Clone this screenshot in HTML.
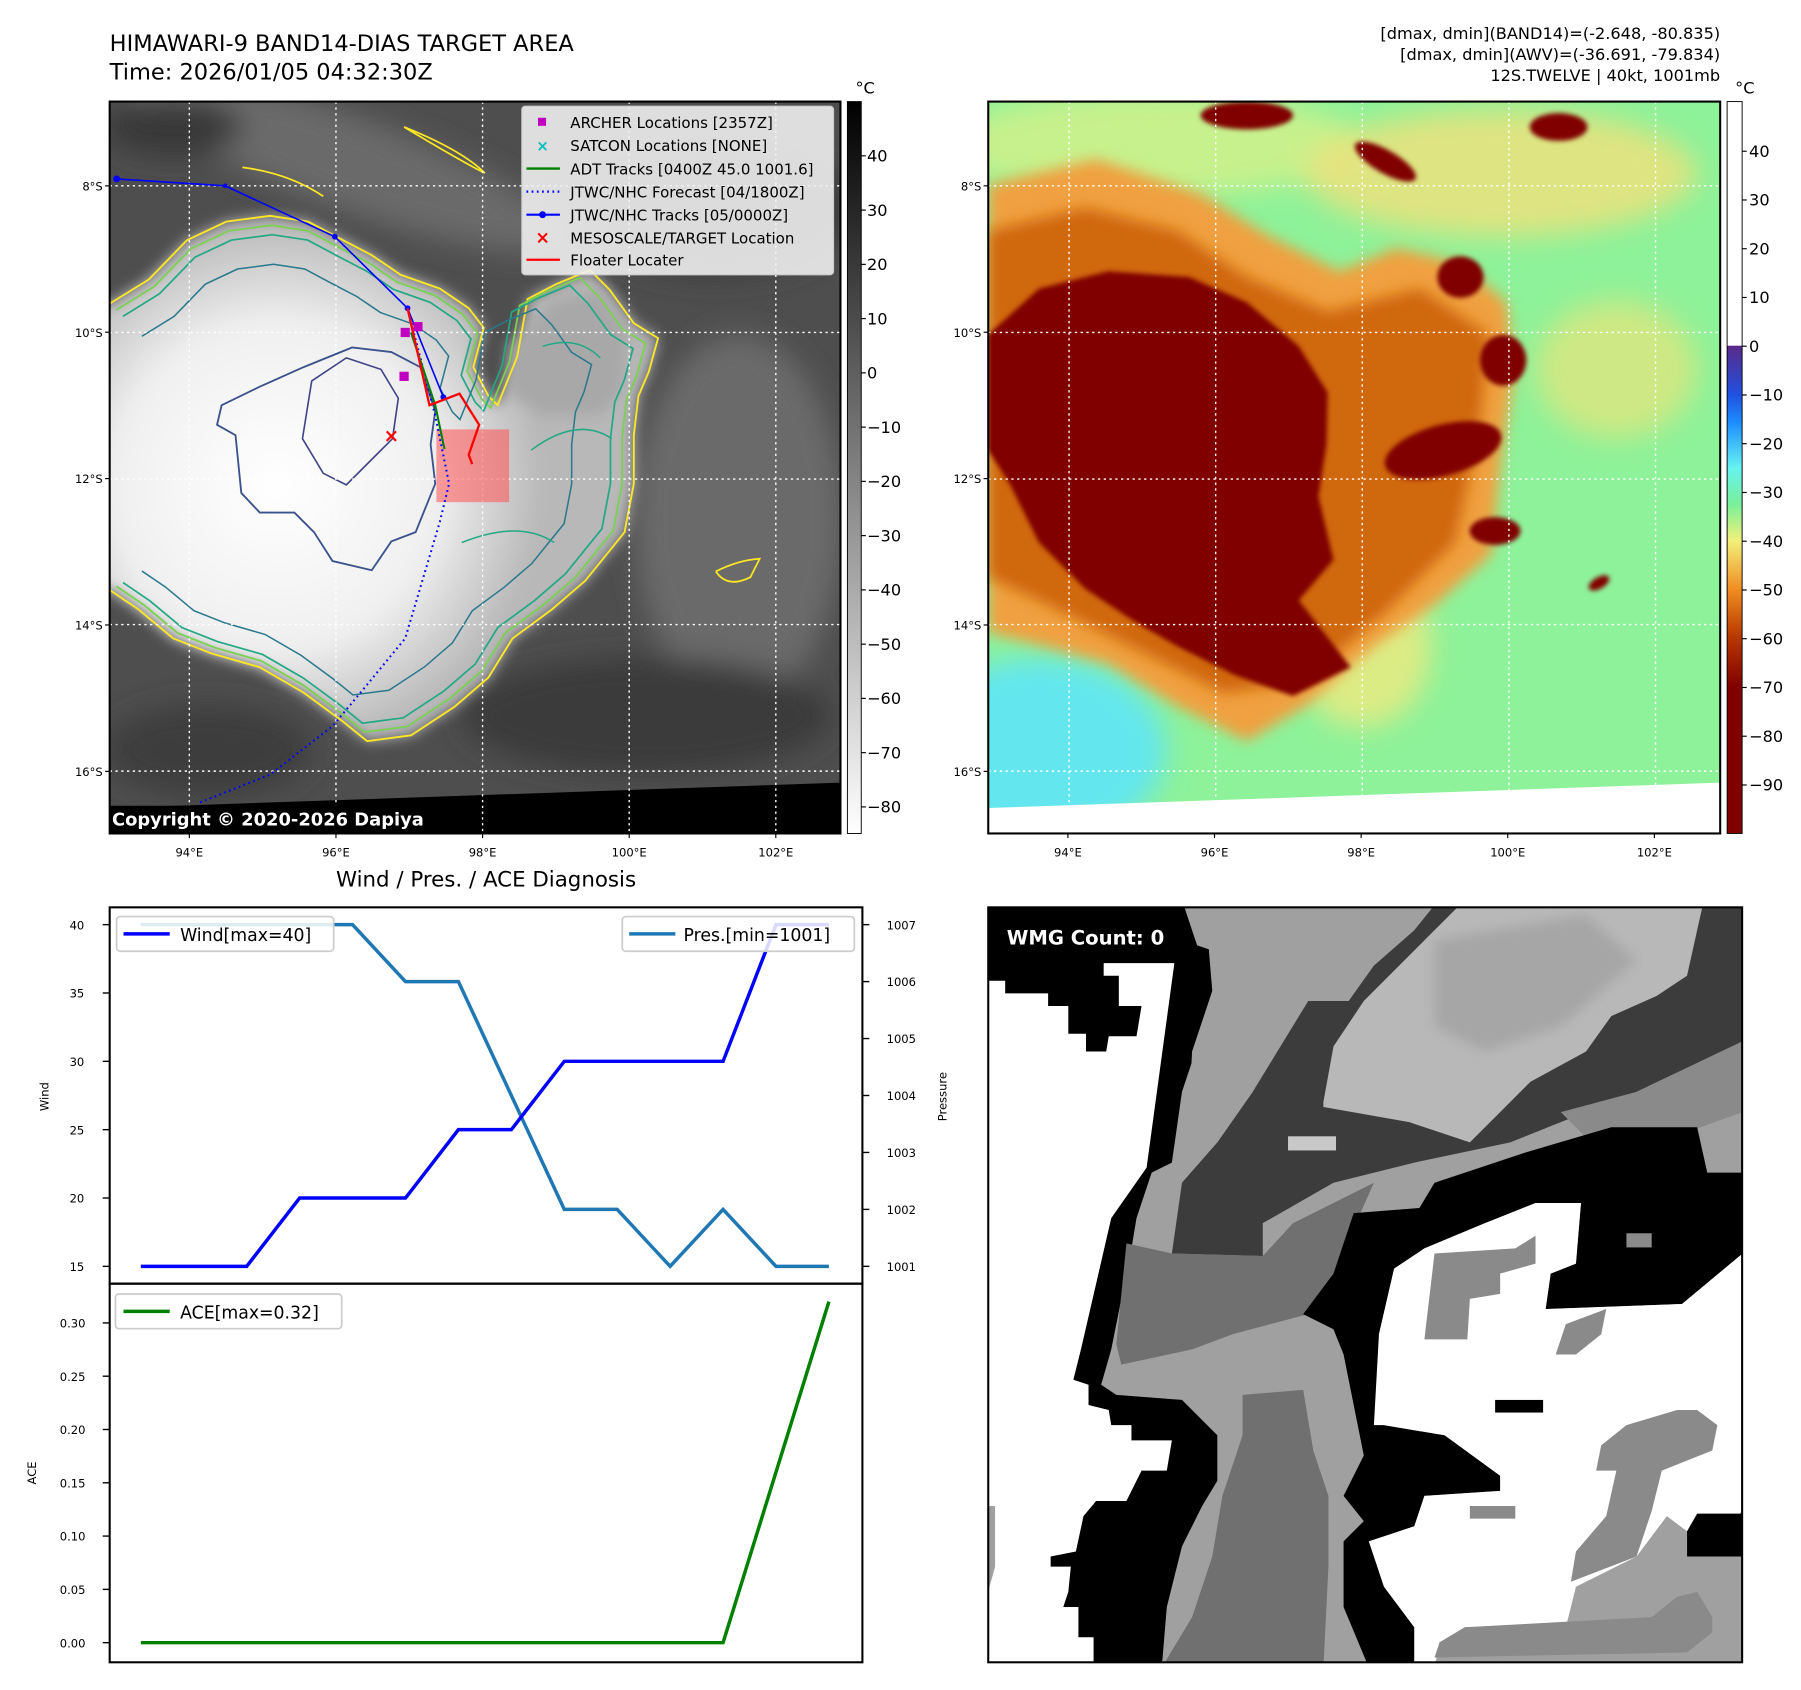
<!DOCTYPE html>
<html><head><meta charset="utf-8">
<style>
html,body{margin:0;padding:0;background:#fff;}
svg{display:block;font-family:"DejaVu Sans","Liberation Sans",sans-serif;}
</style></head>
<body>
<svg id="fig" xmlns="http://www.w3.org/2000/svg" width="1801" height="1690" viewBox="0 0 1560 1464" preserveAspectRatio="none">
<defs>
  <filter id="b2" x="-20%" y="-20%" width="140%" height="140%"><feGaussianBlur stdDeviation="2"/></filter>
  <filter id="b6" x="-30%" y="-30%" width="160%" height="160%"><feGaussianBlur stdDeviation="6"/></filter>
  <filter id="b12" x="-30%" y="-30%" width="160%" height="160%"><feGaussianBlur stdDeviation="12"/></filter>
  <radialGradient id="wg" cx="240" cy="420" r="230" gradientUnits="userSpaceOnUse">
    <stop offset="0" stop-color="#ffffff"/><stop offset="0.6" stop-color="#f0f0f0"/><stop offset="1" stop-color="#b8b8b8"/>
  </radialGradient>
  <linearGradient id="cb1" x1="0" y1="0" x2="0" y2="1"><stop offset="0" stop-color="#000"/><stop offset="1" stop-color="#fff"/></linearGradient>
  <linearGradient id="cb2" x1="0" y1="88" x2="0" y2="722" gradientUnits="userSpaceOnUse">
    <stop offset="0" stop-color="#fff"/><stop offset="0.333" stop-color="#fff"/>
    <stop offset="0.334" stop-color="#5a2a8a"/><stop offset="0.40" stop-color="#2050e0"/>
    <stop offset="0.44" stop-color="#1e90ff"/><stop offset="0.50" stop-color="#66f2f0"/>
    <stop offset="0.55" stop-color="#7af09a"/><stop offset="0.60" stop-color="#f2f07a"/>
    <stop offset="0.667" stop-color="#f08c20"/><stop offset="0.73" stop-color="#b83a00"/>
    <stop offset="0.80" stop-color="#800000"/><stop offset="1" stop-color="#800000"/>
  </linearGradient>
  <clipPath id="clipL"><rect x="95" y="88" width="633" height="634"/></clipPath>
  <clipPath id="clipR"><rect x="856" y="88" width="634" height="634"/></clipPath>
  <clipPath id="clipW"><rect x="856" y="786" width="653" height="654"/></clipPath>
  <path id="blobC" d="M95,263 L129,242 L162,208 L196,192 L234,187 L267,192 L297,208 L322,221 L347,238 L381,250 L406,267 L419,284 L410,318 L423,343 L431,351 L448,309 L457,259 L482,246 L511,234 L528,251 L549,280 L570,293 L562,322 L553,343 L549,377 L549,419 L541,461 L507,503 L478,528 L444,553 L423,587 L394,612 L356,637 L318,642 L297,625 L263,600 L225,578 L183,566 L150,553 L120,528 L95,511"/>
</defs>

<!-- titles -->
<text x="95" y="44" font-size="19.5">HIMAWARI-9 BAND14-DIAS TARGET AREA</text>
<text x="95" y="69" font-size="19.5">Time: 2026/01/05 04:32:30Z</text>
<g font-size="14" text-anchor="end">
  <text x="1490" y="34">[dmax, dmin](BAND14)=(-2.648, -80.835)</text>
  <text x="1490" y="52">[dmax, dmin](AWV)=(-36.691, -79.834)</text>
  <text x="1490" y="70">12S.TWELVE | 40kt, 1001mb</text>
</g>

<!-- LEFT MAP -->
<g clip-path="url(#clipL)">
  <rect x="95" y="88" width="633" height="634" fill="#4e4e4e"/>
  <g filter="url(#b12)">
    <ellipse cx="300" cy="140" rx="200" ry="40" fill="#6a6a6a" transform="rotate(20 300 140)"/>
    <ellipse cx="620" cy="180" rx="120" ry="60" fill="#3c3c3c"/>
    <ellipse cx="640" cy="450" rx="90" ry="160" fill="#6a6a6a"/>
    <ellipse cx="560" cy="620" rx="160" ry="50" fill="#3a3a3a"/>
    <ellipse cx="180" cy="650" rx="90" ry="40" fill="#3c3c3c"/>
    <ellipse cx="150" cy="110" rx="60" ry="25" fill="#383838"/>
  </g>
  <path d="M60,263 L95,263 L129,242 L162,208 L196,192 L234,187 L267,192 L297,208 L322,221 L347,238 L381,250 L406,267 L419,284 L410,318 L423,343 L431,351 L448,309 L457,259 L482,246 L511,234 L528,251 L549,280 L570,293 L562,322 L553,343 L549,377 L549,419 L541,461 L507,503 L478,528 L444,553 L423,587 L394,612 L356,637 L318,642 L297,625 L263,600 L225,578 L183,566 L150,553 L120,528 L95,511 L60,511 Z" fill="url(#wg)" filter="url(#b6)"/>
  <path d="M440,300 L480,260 L520,250 L545,285 L540,340 L520,360 L470,360 L440,340 Z" fill="#a8a8a8" filter="url(#b6)"/>
  <g fill="none" stroke-width="1.6">
    <use href="#blobC" stroke="#fde725"/>
    <use href="#blobC" stroke="#7ad151" transform="translate(260 420) scale(0.965) translate(-260 -420)"/>
    <use href="#blobC" stroke="#22a884" transform="translate(260 420) scale(0.93) translate(-260 -420)"/>
    <use href="#blobC" stroke="#2a788e" transform="translate(250 420) scale(0.82) translate(-250 -420)"/>
  </g>
  <path d="M192,351 L225,335 L263,318 L305,301 L339,305 L364,318 L377,356 L373,385 L377,419 L360,461 L339,469 L322,494 L288,486 L272,461 L255,444 L225,444 L209,427 L204,377 L188,368 Z" fill="none" stroke="#3b528b" stroke-width="1.6"/>
  <path d="M270,330 L300,310 L330,320 L345,345 L340,380 L320,400 L300,420 L280,410 L262,380 Z" fill="none" stroke="#414487" stroke-width="1.4"/>
  <g fill="none" stroke="#fde725" stroke-width="1.5">
    <path d="M350,110 Q400,130 420,150 Q400,140 350,110"/>
    <path d="M210,145 Q250,150 280,170"/>
    <path d="M620,495 Q640,485 658,484 L650,500 Q630,510 620,495"/>
  </g>
  <g fill="none" stroke="#22a884" stroke-width="1.3">
    <path d="M460,390 Q500,360 530,380"/><path d="M470,300 Q500,290 520,310"/><path d="M400,470 Q450,450 480,470"/>
  </g>
  <path d="M95,700 L728,678 L728,722 L95,722 Z" fill="#000"/>
  <g stroke="#fff" stroke-width="1.2" stroke-dasharray="2,3">
    <line x1="164" y1="88" x2="164" y2="722"/><line x1="291" y1="88" x2="291" y2="722"/><line x1="418" y1="88" x2="418" y2="722"/><line x1="545" y1="88" x2="545" y2="722"/><line x1="672" y1="88" x2="672" y2="722"/>
    <line x1="95" y1="161" x2="728" y2="161"/><line x1="95" y1="288" x2="728" y2="288"/><line x1="95" y1="415" x2="728" y2="415"/><line x1="95" y1="541" x2="728" y2="541"/><line x1="95" y1="668" x2="728" y2="668"/>
  </g>
  <rect x="378" y="372" width="63" height="63" fill="#ff5050" opacity="0.55"/>
  <polyline points="353,267 377,360 389,419 381,452 351,553 309,604 288,629 234,671 171,696" fill="none" stroke="#0000ff" stroke-width="1.8" stroke-dasharray="1.5,3"/>
  <polyline points="101,155 195,161 290,205 353,267 384,344" fill="none" stroke="#0000ff" stroke-width="1.4"/>
  <g fill="#0000ff"><circle cx="101" cy="155" r="3"/><circle cx="195" cy="161" r="2"/><circle cx="290" cy="205" r="2.5"/><circle cx="353" cy="267" r="2.5"/><circle cx="384" cy="344" r="2.5"/></g>
  <polyline points="356,288 377,351 385,389" fill="none" stroke="#008000" stroke-width="1.8"/>
  <polyline points="353,267 372,351 398,341 415,368 406,394 409,402" fill="none" stroke="#ff0000" stroke-width="2"/>
  <g fill="#c000c0"><rect x="347" y="284" width="8" height="8"/><rect x="358" y="279" width="8" height="8"/><rect x="346" y="322" width="8" height="8"/></g>
  <text x="339" y="383" font-size="16" font-weight="bold" fill="#ff0000" text-anchor="middle">×</text>
  <rect x="91" y="698" width="269" height="22" fill="#000"/>
  <text x="97" y="715" font-size="15.5" font-weight="bold" fill="#fff">Copyright © 2020-2026 Dapiya</text>
</g>
<rect x="95" y="88" width="633" height="634" fill="none" stroke="#000" stroke-width="1.8"/>
<g font-size="13">
  <rect x="452" y="92" width="270" height="146" rx="3" fill="#f2f2f2" fill-opacity="0.88" stroke="#ccc"/>
  <rect x="466" y="102" width="7" height="7" fill="#c000c0"/><text x="494" y="111">ARCHER Locations [2357Z]</text>
  <text x="470" y="131" fill="#00bfbf" font-size="13" font-weight="bold" text-anchor="middle">×</text><text x="494" y="131">SATCON Locations [NONE]</text>
  <line x1="456" y1="146" x2="485" y2="146" stroke="#008000" stroke-width="2"/><text x="494" y="151">ADT Tracks [0400Z 45.0 1001.6]</text>
  <line x1="456" y1="166" x2="485" y2="166" stroke="#0000ff" stroke-width="2" stroke-dasharray="1.5,3"/><text x="494" y="171">JTWC/NHC Forecast [04/1800Z]</text>
  <line x1="456" y1="186" x2="485" y2="186" stroke="#0000ff" stroke-width="1.8"/><circle cx="470" cy="186" r="3" fill="#0000ff"/><text x="494" y="191">JTWC/NHC Tracks [05/0000Z]</text>
  <text x="470" y="211" fill="#ff0000" font-size="15" font-weight="bold" text-anchor="middle">×</text><text x="494" y="211">MESOSCALE/TARGET Location</text>
  <line x1="456" y1="225" x2="485" y2="225" stroke="#ff0000" stroke-width="2"/><text x="494" y="230">Floater Locater</text>
</g>
<rect x="734" y="88" width="12" height="634" fill="url(#cb1)" stroke="#000" stroke-width="0.8"/>
<text x="741" y="81" font-size="14">°C</text>
<g id="cb1ticks" font-size="14"></g>

<!-- RIGHT MAP -->
<g clip-path="url(#clipR)">
  <rect x="856" y="88" width="634" height="634" fill="#8ef29a"/>
  <g filter="url(#b12)">
    <ellipse cx="1000" cy="125" rx="180" ry="45" fill="#d6f08a" opacity="0.8"/>
    <ellipse cx="1300" cy="150" rx="170" ry="55" fill="#f2e07a" opacity="0.8"/>
    <ellipse cx="1400" cy="320" rx="70" ry="60" fill="#e8e47a" opacity="0.7"/>
    <ellipse cx="900" cy="650" rx="110" ry="80" fill="#64e6ee"/>
    <ellipse cx="1180" cy="560" rx="60" ry="70" fill="#f0ea80" opacity="0.8"/>
  </g>
  <path d="M856,160 L950,138 L1040,168 L1100,205 L1160,235 L1210,215 L1265,228 L1305,262 L1312,320 L1300,400 L1292,480 L1245,522 L1190,560 L1130,612 L1080,642 L1020,612 L960,575 L905,560 L856,548 Z" fill="#f0a040" filter="url(#b6)"/>
  <path d="M856,200 L940,180 L1020,200 L1080,240 L1150,270 L1230,250 L1290,290 L1280,380 L1260,470 L1200,530 L1130,590 L1060,600 L980,560 L900,520 L856,500 Z" fill="#d06810" filter="url(#b6)"/>
  <path d="M856,290 L900,250 L960,235 L1030,240 L1080,262 L1125,300 L1150,340 L1149,385 L1142,430 L1155,485 L1125,520 L1170,578 L1120,603 L1070,585 L1020,560 L982,538 L940,510 L900,470 L875,420 L856,390 Z" fill="#800000" filter="url(#b2)"/>
  <g fill="#800000" filter="url(#b2)">
    <ellipse cx="1265" cy="240" rx="20" ry="18"/><ellipse cx="1302" cy="312" rx="20" ry="22"/><ellipse cx="1250" cy="390" rx="52" ry="22" transform="rotate(-15 1250 390)"/>
    <ellipse cx="1200" cy="140" rx="30" ry="10" transform="rotate(30 1200 140)"/><ellipse cx="1080" cy="100" rx="40" ry="12"/><ellipse cx="1350" cy="110" rx="25" ry="12"/>
    <ellipse cx="1385" cy="505" rx="10" ry="5" transform="rotate(-30 1385 505)"/><ellipse cx="1295" cy="460" rx="22" ry="12"/>
  </g>
  <path d="M856,700 L1490,678 L1490,722 L856,722 Z" fill="#fff"/>
  <g stroke="#fff" stroke-width="1.2" stroke-dasharray="2,3">
    <line x1="926" y1="88" x2="926" y2="722"/><line x1="1053" y1="88" x2="1053" y2="722"/><line x1="1180" y1="88" x2="1180" y2="722"/><line x1="1307" y1="88" x2="1307" y2="722"/><line x1="1434" y1="88" x2="1434" y2="722"/>
    <line x1="856" y1="161" x2="1490" y2="161"/><line x1="856" y1="288" x2="1490" y2="288"/><line x1="856" y1="415" x2="1490" y2="415"/><line x1="856" y1="541" x2="1490" y2="541"/><line x1="856" y1="668" x2="1490" y2="668"/>
  </g>
</g>
<rect x="856" y="88" width="634" height="634" fill="none" stroke="#000" stroke-width="1.8"/>
<rect x="1496" y="88" width="13" height="634" fill="url(#cb2)" stroke="#000" stroke-width="0.8"/>
<text x="1503" y="81" font-size="14">°C</text>
<g id="cb2ticks" font-size="14"></g>
<g id="mapTicks" font-size="10"></g>

<!-- WIND / PRESSURE / ACE -->
<text x="421" y="768" font-size="18.5" text-anchor="middle">Wind / Pres. / ACE Diagnosis</text>
<rect x="95" y="786" width="652" height="326" fill="none" stroke="#000" stroke-width="1.8"/>
<rect x="95" y="1112" width="652" height="328" fill="none" stroke="#000" stroke-width="1.8"/>
<g id="chart"></g>
<text transform="translate(42 950) rotate(-90)" font-size="10" text-anchor="middle">Wind</text>
<text transform="translate(820 950) rotate(-90)" font-size="10" text-anchor="middle">Pressure</text>
<text transform="translate(31 1276) rotate(-90)" font-size="10" text-anchor="middle">ACE</text>
<g font-size="15">
  <g><rect x="101" y="794" width="188" height="30" rx="3" fill="#fff" fill-opacity="0.85" stroke="#ccc" stroke-width="1.5"/><line x1="107" y1="809" x2="147" y2="809" stroke="#0000ff" stroke-width="3"/><text x="156" y="815">Wind[max=40]</text></g>
  <g><rect x="539" y="794" width="201" height="30" rx="3" fill="#fff" fill-opacity="0.85" stroke="#ccc" stroke-width="1.5"/><line x1="545" y1="809" x2="585" y2="809" stroke="#1f77b4" stroke-width="3"/><text x="592" y="815">Pres.[min=1001]</text></g>
  <g><rect x="100" y="1121" width="196" height="30" rx="3" fill="#fff" fill-opacity="0.85" stroke="#ccc" stroke-width="1.5"/><line x1="107" y1="1136" x2="147" y2="1136" stroke="#008000" stroke-width="3"/><text x="156" y="1142">ACE[max=0.32]</text></g>
</g>

<!-- WMG panel -->
<g clip-path="url(#clipW)">
  <g transform="translate(848.8 779.6) scale(0.4375)">
    <rect x="0" y="0" width="1520" height="1520" fill="#a0a0a0"/>
    <path d="M8,0 L400,0 L430,90 L520,120 L520,180 L460,180 L440,260 L400,380 L380,520 L340,540 L310,630 L300,690 L260,890 L240,960 L270,980 L400,990 L470,1060 L470,1150 L440,1200 L400,1280 L370,1400 L360,1520 L8,1520 Z" fill="#000"/>
    <path d="M8,160 L50,160 L50,185 L135,185 L135,210 L175,210 L175,265 L210,265 L210,300 L250,300 L255,270 L310,270 L320,210 L275,210 L275,150 L245,150 L245,125 L385,125 L330,530 L260,630 L200,890 L185,950 L215,960 L215,1000 L255,1010 L260,1040 L300,1040 L300,1070 L380,1070 L370,1130 L320,1130 L290,1190 L230,1190 L205,1220 L190,1290 L140,1300 L140,1320 L180,1320 L175,1370 L165,1400 L195,1400 L195,1460 L225,1460 L225,1520 L8,1520 Z" fill="#fff"/>
    <path d="M8,1200 L30,1200 L30,1320 L8,1400 Z" fill="#a0a0a0"/>
    <path d="M380,700 L400,560 L470,480 L540,380 L650,200 L730,200 L780,130 L860,60 L900,10 L1510,10 L1510,280 L1300,380 L1050,480 L860,520 L700,560 L560,640 L560,705 Z" fill="#3c3c3c"/>
    <path d="M450,60 L640,60 L700,140 L640,200 L540,380 L470,480 L410,500 L420,300 L460,180 Z" fill="#a0a0a0"/>
    <path d="M1300,380 L1510,280 L1510,420 L1400,460 L1200,470 L1150,420 Z" fill="#8a8a8a"/>
    <path d="M680,400 L700,290 L760,200 L830,130 L890,70 L945,15 L1430,15 L1400,150 L1340,190 L1250,230 L1200,300 L1090,360 L1030,420 L970,480 L850,440 L680,410 Z" fill="#b8b8b8"/>
    <path d="M900,80 L1200,30 L1300,120 L1150,250 L1000,300 L900,250 Z" fill="#a6a6a6" filter="url(#b12)"/>
    <rect x="610" y="468" width="95" height="28" fill="#c8c8c8"/>
    <path d="M290,680 L380,700 L560,705 L620,640 L700,600 L780,560 L700,740 L650,820 L500,860 L420,890 L280,920 L270,880 Z" fill="#707070"/>
    <path d="M520,980 L640,970 L660,1090 L690,1180 L690,1320 L680,1520 L360,1520 L420,1420 L460,1300 L480,1180 L520,1060 Z" fill="#707070"/>
    <path d="M640,820 L700,740 L740,620 L870,610 L900,560 L1080,500 L1250,450 L1420,450 L1440,540 L1510,540 L1510,700 L1390,800 L1120,810 L1130,740 L1180,720 L1190,600 L1100,600 L1000,640 L880,690 L820,730 L790,860 L800,1040 L920,1060 L1030,1140 L1030,1170 L880,1180 L860,1240 L770,1270 L800,1360 L860,1440 L860,1520 L770,1520 L720,1400 L720,1270 L760,1230 L720,1180 L760,1100 L740,1000 L720,900 L700,850 Z" fill="#000"/>
    <path d="M780,1040 L790,860 L820,730 L880,690 L1000,640 L1100,600 L1190,600 L1180,720 L1130,740 L1120,810 L1390,800 L1510,700 L1510,1210 L1400,1300 L1400,1250 L1360,1220 L1300,1300 L1180,1360 L1160,1440 L960,1440 L910,1470 L900,1520 L860,1520 L860,1440 L800,1360 L770,1270 L860,1240 L880,1180 L1030,1170 L1030,1140 L920,1060 L800,1040 Z" fill="#fff"/>
    <path d="M880,870 L900,700 L1060,690 L1100,665 L1100,720 L1030,740 L1030,780 L970,790 L965,870 Z" fill="#8a8a8a"/>
    <path d="M1220,1130 L1230,1080 L1280,1040 L1380,1010 L1420,1010 L1460,1040 L1450,1090 L1350,1130 L1330,1210 L1300,1300 L1170,1350 L1180,1290 L1240,1220 L1260,1130 Z" fill="#8a8a8a"/>
    <path d="M910,1470 L960,1440 L1330,1420 L1380,1380 L1420,1370 L1450,1420 L1450,1450 L1400,1490 L900,1500 Z" fill="#8a8a8a"/>
    <path d="M1140,900 L1160,840 L1240,810 L1230,860 L1180,900 Z" fill="#8a8a8a"/>
    <rect x="970" y="1200" width="90" height="25" fill="#8a8a8a"/>
    <rect x="1020" y="990" width="95" height="25" fill="#000"/>
    <path d="M1400,1250 L1420,1215 L1510,1215 L1510,1300 L1400,1300 Z" fill="#000"/>
    <rect x="1280" y="660" width="50" height="28" fill="#8a8a8a"/>
    <rect x="8" y="20" width="380" height="75" fill="#000"/>
  </g>
  <text x="872" y="818" font-size="17" font-weight="bold" fill="#fff">WMG Count: 0</text>
</g>
<rect x="856" y="786" width="653" height="654" fill="none" stroke="#000" stroke-width="1.8"/>
</svg>

<script>
const NS = "http://www.w3.org/2000/svg";
const timeIndex = [0,1,2,3,4,5,6,7,8,9,10,11,12,13];
const windValues = [15,15,15,20,20,20,25,25,30,30,30,30,40,40];
const pressureValues = [1007,1007,1007,1007,1007,1006,1006,1004,1002,1002,1001,1002,1001,1001];
const aceValues = [0,0,0,0,0,0,0,0,0,0,0,0,0.16,0.32];
const windTicks = [15,20,25,30,35,40];
const pressureTicks = [1001,1002,1003,1004,1005,1006,1007];
const aceTicks = ["0.00","0.05","0.10","0.15","0.20","0.25","0.30"];
const irCbTicks = [40,30,20,10,0,-10,-20,-30,-40,-50,-60,-70,-80];
const awvCbTicks = [40,30,20,10,0,-10,-20,-30,-40,-50,-60,-70,-80,-90];
const lonTicks = ["94°E","96°E","98°E","100°E","102°E"];
const latTicks = ["8°S","10°S","12°S","14°S","16°S"];

const xScale = i => 122 + (718-122) * i / 13;
const windY = v => 1097 - (v-15) * (1097-801) / 25;
const presY = v => 1097 - (v-1001) * (1097-801) / 6;
const aceY = v => 1423 - v * (1423-1146) / 0.30;
const irCbY = v => 135 + (40 - v) * 4.7;
const awvCbY = v => 131 + (40 - v) * (680-131) / 130;
const lonX = i => 164 + i * 127;
const latY = i => 161 + i * 126.8;

function mk(tag, attrs, parent, txt){
  const e = document.createElementNS(NS, tag);
  for (const k in attrs) e.setAttribute(k, attrs[k]);
  if (txt !== undefined) e.textContent = txt;
  parent.appendChild(e);
  return e;
}
const chart = document.getElementById('chart');

windTicks.forEach(v => {
  mk('line', {x1:89,x2:95,y1:windY(v),y2:windY(v),stroke:'#000','stroke-width':1.2}, chart);
  const t = mk('text', {x:73,y:windY(v)+4,'font-size':10,'text-anchor':'end'}, chart, String(v));
  
  
});
pressureTicks.forEach(v => {
  mk('line', {x1:747,x2:753,y1:presY(v),y2:presY(v),stroke:'#000','stroke-width':1.2}, chart);
  const t = mk('text', {x:768,y:presY(v)+4,'font-size':10}, chart, String(v));
  
  
});
aceTicks.forEach(s => {
  const v = parseFloat(s);
  mk('line', {x1:89,x2:95,y1:aceY(v),y2:aceY(v),stroke:'#000','stroke-width':1.2}, chart);
  const t = mk('text', {x:74,y:aceY(v)+4,'font-size':10,'text-anchor':'end'}, chart, s);
  
  
});

const presLine = mk('polyline', {points: timeIndex.map(i => xScale(i)+','+presY(pressureValues[i])).join(' '), fill:'none', stroke:'#1f77b4','stroke-width':3}, chart);


const windLine = mk('polyline', {points: timeIndex.map(i => xScale(i)+','+windY(windValues[i])).join(' '), fill:'none', stroke:'#0000ff','stroke-width':3}, chart);


const aceLine = mk('polyline', {points: timeIndex.map(i => xScale(i)+','+aceY(aceValues[i])).join(' '), fill:'none', stroke:'#008000','stroke-width':3}, chart);



const cb1 = document.getElementById('cb1ticks');
irCbTicks.forEach(v => {
  mk('line', {x1:746,x2:750,y1:irCbY(v),y2:irCbY(v),stroke:'#000'}, cb1);
  const t = mk('text', {x:751,y:irCbY(v)+5}, cb1, v < 0 ? '\u2212' + Math.abs(v) : String(v));
  
  
});
const cb2 = document.getElementById('cb2ticks');
awvCbTicks.forEach(v => {
  mk('line', {x1:1509,x2:1513,y1:awvCbY(v),y2:awvCbY(v),stroke:'#000'}, cb2);
  const t = mk('text', {x:1515,y:awvCbY(v)+5}, cb2, v < 0 ? '\u2212' + Math.abs(v) : String(v));
  
  
});

const mt = document.getElementById('mapTicks');
[0, 761].forEach(off => {
  lonTicks.forEach((s, i) => {
    mk('line', {x1:lonX(i)+off,x2:lonX(i)+off,y1:722,y2:726,stroke:'#000'}, mt);
    const t = mk('text', {x:lonX(i)+off,y:742,'text-anchor':'middle'}, mt, s);
    
    
  });
  const left = off ? 856 : 95;
  latTicks.forEach((s, i) => {
    mk('line', {x1:left-4,x2:left,y1:latY(i),y2:latY(i),stroke:'#000'}, mt);
    const t = mk('text', {x:left-6,y:latY(i)+4,'text-anchor':'end'}, mt, s);
    
    
  });
});
</script>
</body></html>
